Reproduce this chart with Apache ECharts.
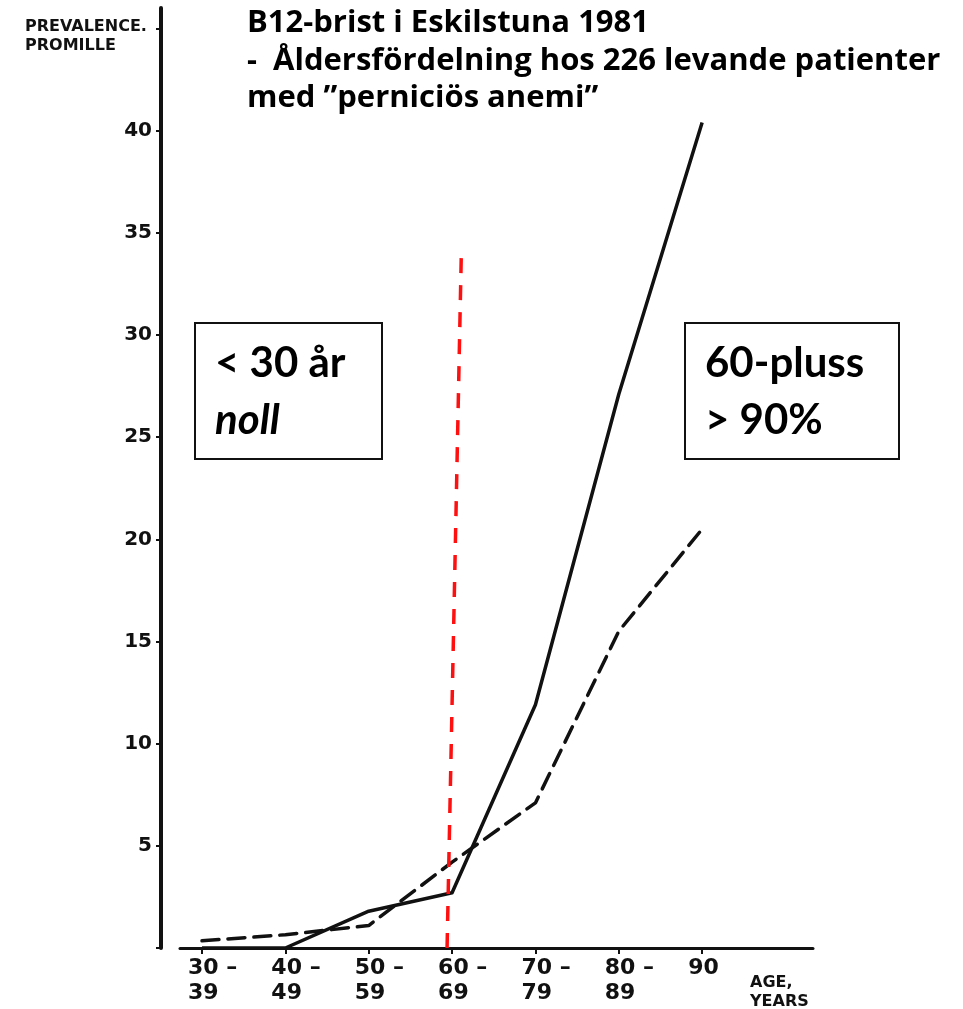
<!DOCTYPE html>
<html>
<head>
<meta charset="utf-8">
<script src="https://cdn.jsdelivr.net/npm/echarts@6/dist/echarts.min.js"></script>
<style>
  html, body { margin: 0; padding: 0; background: #fff; }
  #chart { width: 963px; height: 1009px; }
</style>
</head>
<body>
<div id="chart"></div>
<script>
// ---- data ----
const ageLine1 = ['30 –', '40 –', '50 –', '60 –', '70 –', '80 –', '90'];
const ageLine2 = ['39', '49', '59', '69', '79', '89', ''];
const solidSeries = [0, 0, 1.8, 2.7, 11.9, 27.1, 40.4];
const dashedSeries = [0.35, 0.65, 1.1, 4.2, 7.1, 15.5, 20.5];
const cutoffX = [2.94, 3.11];
const cutoffY = [0, 33.8];
const yTickValues = [0, 5, 10, 15, 20, 25, 30, 35, 40, 45];
const yLabelsShown = [5, 10, 15, 20, 25, 30, 35, 40];
const titleLines = ['B12-brist i Eskilstuna 1981', '-  Åldersfördelning hos 226 levande patienter', 'med ”perniciös anemi”'];
const yAxisNameLines = ['PREVALENCE.', 'PROMILLE'];
const xAxisNameLines = ['AGE,', 'YEARS'];
const leftBoxLines = ['< 30 år', 'noll'];
const rightBoxLines = ['60-pluss', '> 90%'];

const xIdx = ageLine1.map((_, i) => i);
const chart = echarts.init(document.getElementById('chart'), null, { renderer: 'canvas' });

const axisFont = 'DejaVu Sans';
const titleFont = '"Open Sans"';
const boxFont = 'Lato';

const option = {
  animation: false,
  backgroundColor: '#ffffff',
  grid: { left: 180, right: 150, top: 8, bottom: 61, containLabel: false, outerBoundsMode: 'none' },
  xAxis: {
    type: 'value',
    min: -0.264,
    max: 7.33,
    splitLine: { show: false },
    axisLine: { show: true, onZero: false, lineStyle: { color: '#111', width: 3 } },
    axisTick: { show: true, customValues: xIdx, length: 6, lineStyle: { color: '#111', width: 2 } },
    axisLabel: {
      customValues: xIdx,
      margin: 8,
      formatter: (v) => {
        const i = Math.round(v);
        return '{a|' + ageLine1[i] + '}\n{a|' + (ageLine2[i] || ' ') + '}';
      },
      rich: {
        a: { width: 46, align: 'left', padding: [0, 0, 0, 18], fontFamily: axisFont, fontWeight: 'bold', fontSize: 22, lineHeight: 25, color: '#111' }
      }
    }
  },
  yAxis: {
    type: 'value',
    min: 0,
    max: 46,
    interval: 5,
    offset: 19,
    splitLine: { show: false },
    axisLine: { show: true, onZero: false, lineStyle: { color: '#111', width: 4 } },
    axisTick: { show: true, length: 5, customValues: yTickValues, lineStyle: { color: '#111', width: 2 } },
    axisLabel: {
      customValues: yLabelsShown,
      margin: 9,
      fontFamily: axisFont,
      fontWeight: 'bold',
      fontSize: 20,
      color: '#111'
    }
  },
  series: [
    {
      name: 'solid',
      type: 'line',
      symbol: 'none',
      data: solidSeries.map((v, i) => [i, v]),
      lineStyle: { color: '#111', width: 3.5, join: 'round' },
      z: 3
    },
    {
      name: 'dashed',
      type: 'line',
      symbol: 'none',
      data: dashedSeries.map((v, i) => [i, v]),
      lineStyle: { color: '#111', width: 3.5, type: [17, 9], cap: 'round' },
      z: 3
    },
    {
      name: 'cutoff',
      type: 'line',
      symbol: 'none',
      data: cutoffX.map((x, i) => [x, cutoffY[i]]),
      lineStyle: { color: '#ff1010', width: 3.5, type: [15, 12] },
      z: 4
    }
  ],
  graphic: [
    // title
    { type: 'text', x: 247, y: 23, style: { text: titleLines[0], font: 'bold 31px ' + titleFont, fill: '#000', verticalAlign: 'middle' } },
    { type: 'text', x: 247, y: 61, style: { text: titleLines[1], font: 'bold 31px ' + titleFont, fill: '#000', verticalAlign: 'middle' } },
    { type: 'text', x: 247, y: 98, style: { text: titleLines[2], font: 'bold 31px ' + titleFont, fill: '#000', verticalAlign: 'middle' } },
    // axis names
    { type: 'text', x: 25, y: 27, style: { text: yAxisNameLines[0], font: 'bold 16px ' + axisFont, fill: '#111', verticalAlign: 'middle' } },
    { type: 'text', x: 25, y: 46, style: { text: yAxisNameLines[1], font: 'bold 16px ' + axisFont, fill: '#111', verticalAlign: 'middle' } },
    { type: 'text', x: 750, y: 983, style: { text: xAxisNameLines[0], font: 'bold 16px ' + axisFont, fill: '#111', verticalAlign: 'middle' } },
    { type: 'text', x: 750, y: 1002, style: { text: xAxisNameLines[1], font: 'bold 16px ' + axisFont, fill: '#111', verticalAlign: 'middle' } },
    // boxes
    { type: 'rect', shape: { x: 195, y: 323, width: 187, height: 136 }, style: { fill: '#fff', stroke: '#111', lineWidth: 2 }, z: 10 },
    { type: 'text', x: 215, y: 363, style: { text: leftBoxLines[0], font: 'bold 42px ' + boxFont, fill: '#000', verticalAlign: 'middle' }, z: 11 },
    { type: 'text', x: 215, y: 420, style: { text: leftBoxLines[1], font: 'italic bold 42px ' + boxFont, fill: '#000', verticalAlign: 'middle' }, z: 11 },
    { type: 'rect', shape: { x: 685, y: 323, width: 214, height: 136 }, style: { fill: '#fff', stroke: '#111', lineWidth: 2 }, z: 10 },
    { type: 'text', x: 705, y: 363, style: { text: rightBoxLines[0], font: 'bold 42px ' + boxFont, fill: '#000', verticalAlign: 'middle' }, z: 11 },
    { type: 'text', x: 705, y: 420, style: { text: rightBoxLines[1], font: 'bold 42px ' + boxFont, fill: '#000', verticalAlign: 'middle' }, z: 11 }
  ]
};
chart.setOption(option);
</script>
</body>
</html>
